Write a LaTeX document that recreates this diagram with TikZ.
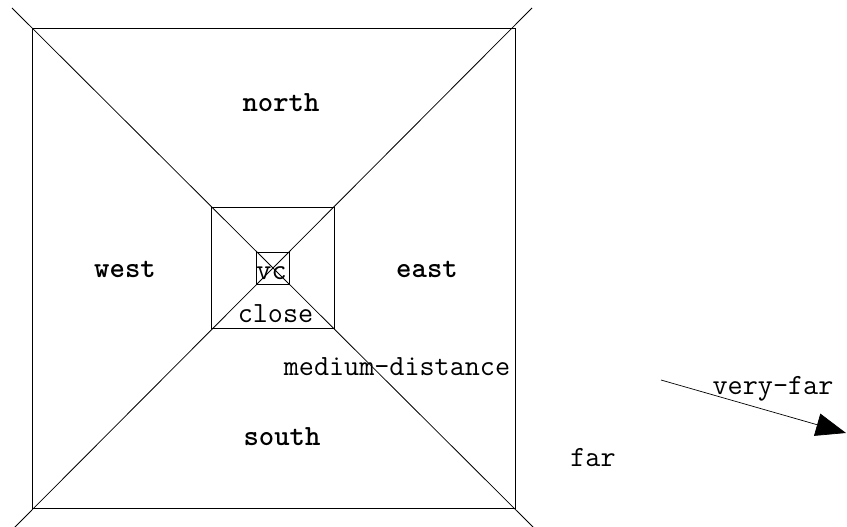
\documentclass[tikz,border=0pt]{standalone}
\usetikzlibrary{arrows.meta}

\begin{document}
\begin{tikzpicture}[x=1pt,y=-1pt,line width=0.8pt,
    region/.style={font=\fontsize{29.3}{33}\selectfont\ttfamily\bfseries,anchor=base,inner sep=0pt},
    dist/.style={font=\fontsize{29.3}{33}\selectfont\ttfamily,anchor=base,inner sep=0pt}]
  \useasboundingbox (0,0) rectangle (847,527);
  % outer square and its diagonals
  \draw (32,28) rectangle (515,508);
  \draw (12,8) -- (534,528);
  \draw (532,8) -- (14,528);
  % inner squares
  \draw (211,207) rectangle (334,328);
  \draw (256,252) rectangle (289,284);
  % regions
  \node[region] (north) at (281,111) {north};
  \node[region] (south) at (282,445) {south};
  \node[region] (west) at (125,277) {west};
  \node[region] (east) at (427,277) {east};
  % distances
  \node[dist] (vc) at (271.5,279) {vc};
  \node[dist] (close) at (275.5,322) {close};
  \node[dist] (medium) at (397,375) {medium-distance};
  \node[dist] (far) at (593,466) {far};
  \node[dist] (veryfar) at (773,394) {very-far};
  \coordinate (vf-start) at (661,380);
  \coordinate (vf-end) at (846,433);
  \draw[line width=0.7pt,-{Triangle[length=30pt,width=23pt]}] (vf-start) -- (vf-end);
\end{tikzpicture}
\end{document}
